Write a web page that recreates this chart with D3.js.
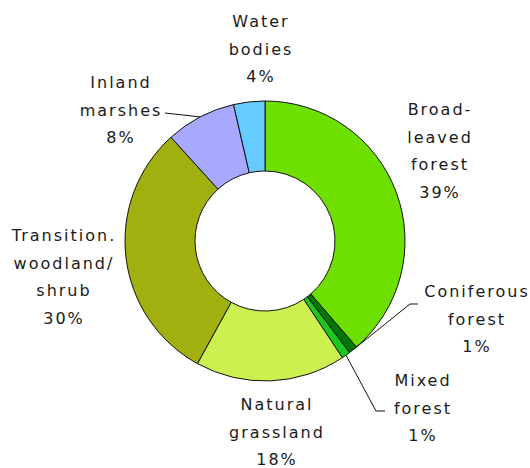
<!DOCTYPE html>
<html>
<head>
<meta charset="utf-8">
<script src="https://cdn.jsdelivr.net/npm/d3@7"></script>
<style>
html,body{margin:0;padding:0;background:#fff;}
text{font-family:"DejaVu Sans",Verdana,sans-serif;font-size:16px;letter-spacing:2px;fill:#1a1a1a;}
</style>
</head>
<body>
<svg id="chart" width="530" height="468"></svg>
<script>
const categories = ["Broad-leaved forest","Coniferous forest","Mixed forest","Natural grassland","Transition. woodland/ shrub","Inland marshes","Water bodies"];
const values = [38.6, 1.0, 1.0, 17.3, 30.2, 8.1, 3.6];
const percentLabels = ["39%","1%","1%","18%","30%","8%","4%"];
const labelLines = [["Broad-","leaved","forest"],["Coniferous","forest"],["Mixed","forest"],["Natural","grassland"],["Transition.","woodland/","shrub"],["Inland","marshes"],["Water","bodies"]];
const colors = ["#6EE000","#007800","#1CC81C","#CCF050","#A0B00E","#A8A8FF","#66CCFF"];

const svg = d3.select("#chart");
const cx = 265, cy = 241, R = 140, r0 = 70;
const g = svg.append("g").attr("transform", `translate(${cx},${cy})`);

const pie = d3.pie().sort(null).value(d => d);
const arcs = pie(values);
const arc = d3.arc().innerRadius(r0).outerRadius(R);

g.selectAll("path.slice").data(arcs).enter().append("path")
  .attr("class","slice")
  .attr("d", arc)
  .attr("fill", (d,i) => colors[i])
  .attr("stroke", "#111")
  .attr("stroke-width", 1)
  .attr("stroke-linejoin","round");

// label positions (center x, first baseline) in page coords
const labelPos = [[439,115],[476,297],[422,386],[276,410],[63,241],[120,88],[260,27]];
const lineH = 27.7;

labelPos.forEach((p,i) => {
  const lines = labelLines[i].concat([percentLabels[i]]);
  const t = svg.append("text").attr("text-anchor","middle");
  lines.forEach((s,k) => {
    t.append("tspan").attr("x", p[0] + 1).attr("y", p[1] + k*lineH).text(s);
  });
});

// leader lines
function outerPt(i){
  const a = (arcs[i].startAngle + arcs[i].endAngle)/2;
  return [cx + R*Math.sin(a), cy - R*Math.cos(a)];
}
const leaders = [
  {i:1, pts:[[410,304],[418,304]]},
  {i:2, pts:[[376,411],[385,411]]},
  {i:5, pts:[[165,113]]}
];
const lineGen = d3.line();
leaders.forEach(l => {
  svg.append("path")
    .attr("d", lineGen([outerPt(l.i)].concat(l.pts)))
    .attr("fill","none").attr("stroke","#111").attr("stroke-width",1);
});
</script>
</body>
</html>
